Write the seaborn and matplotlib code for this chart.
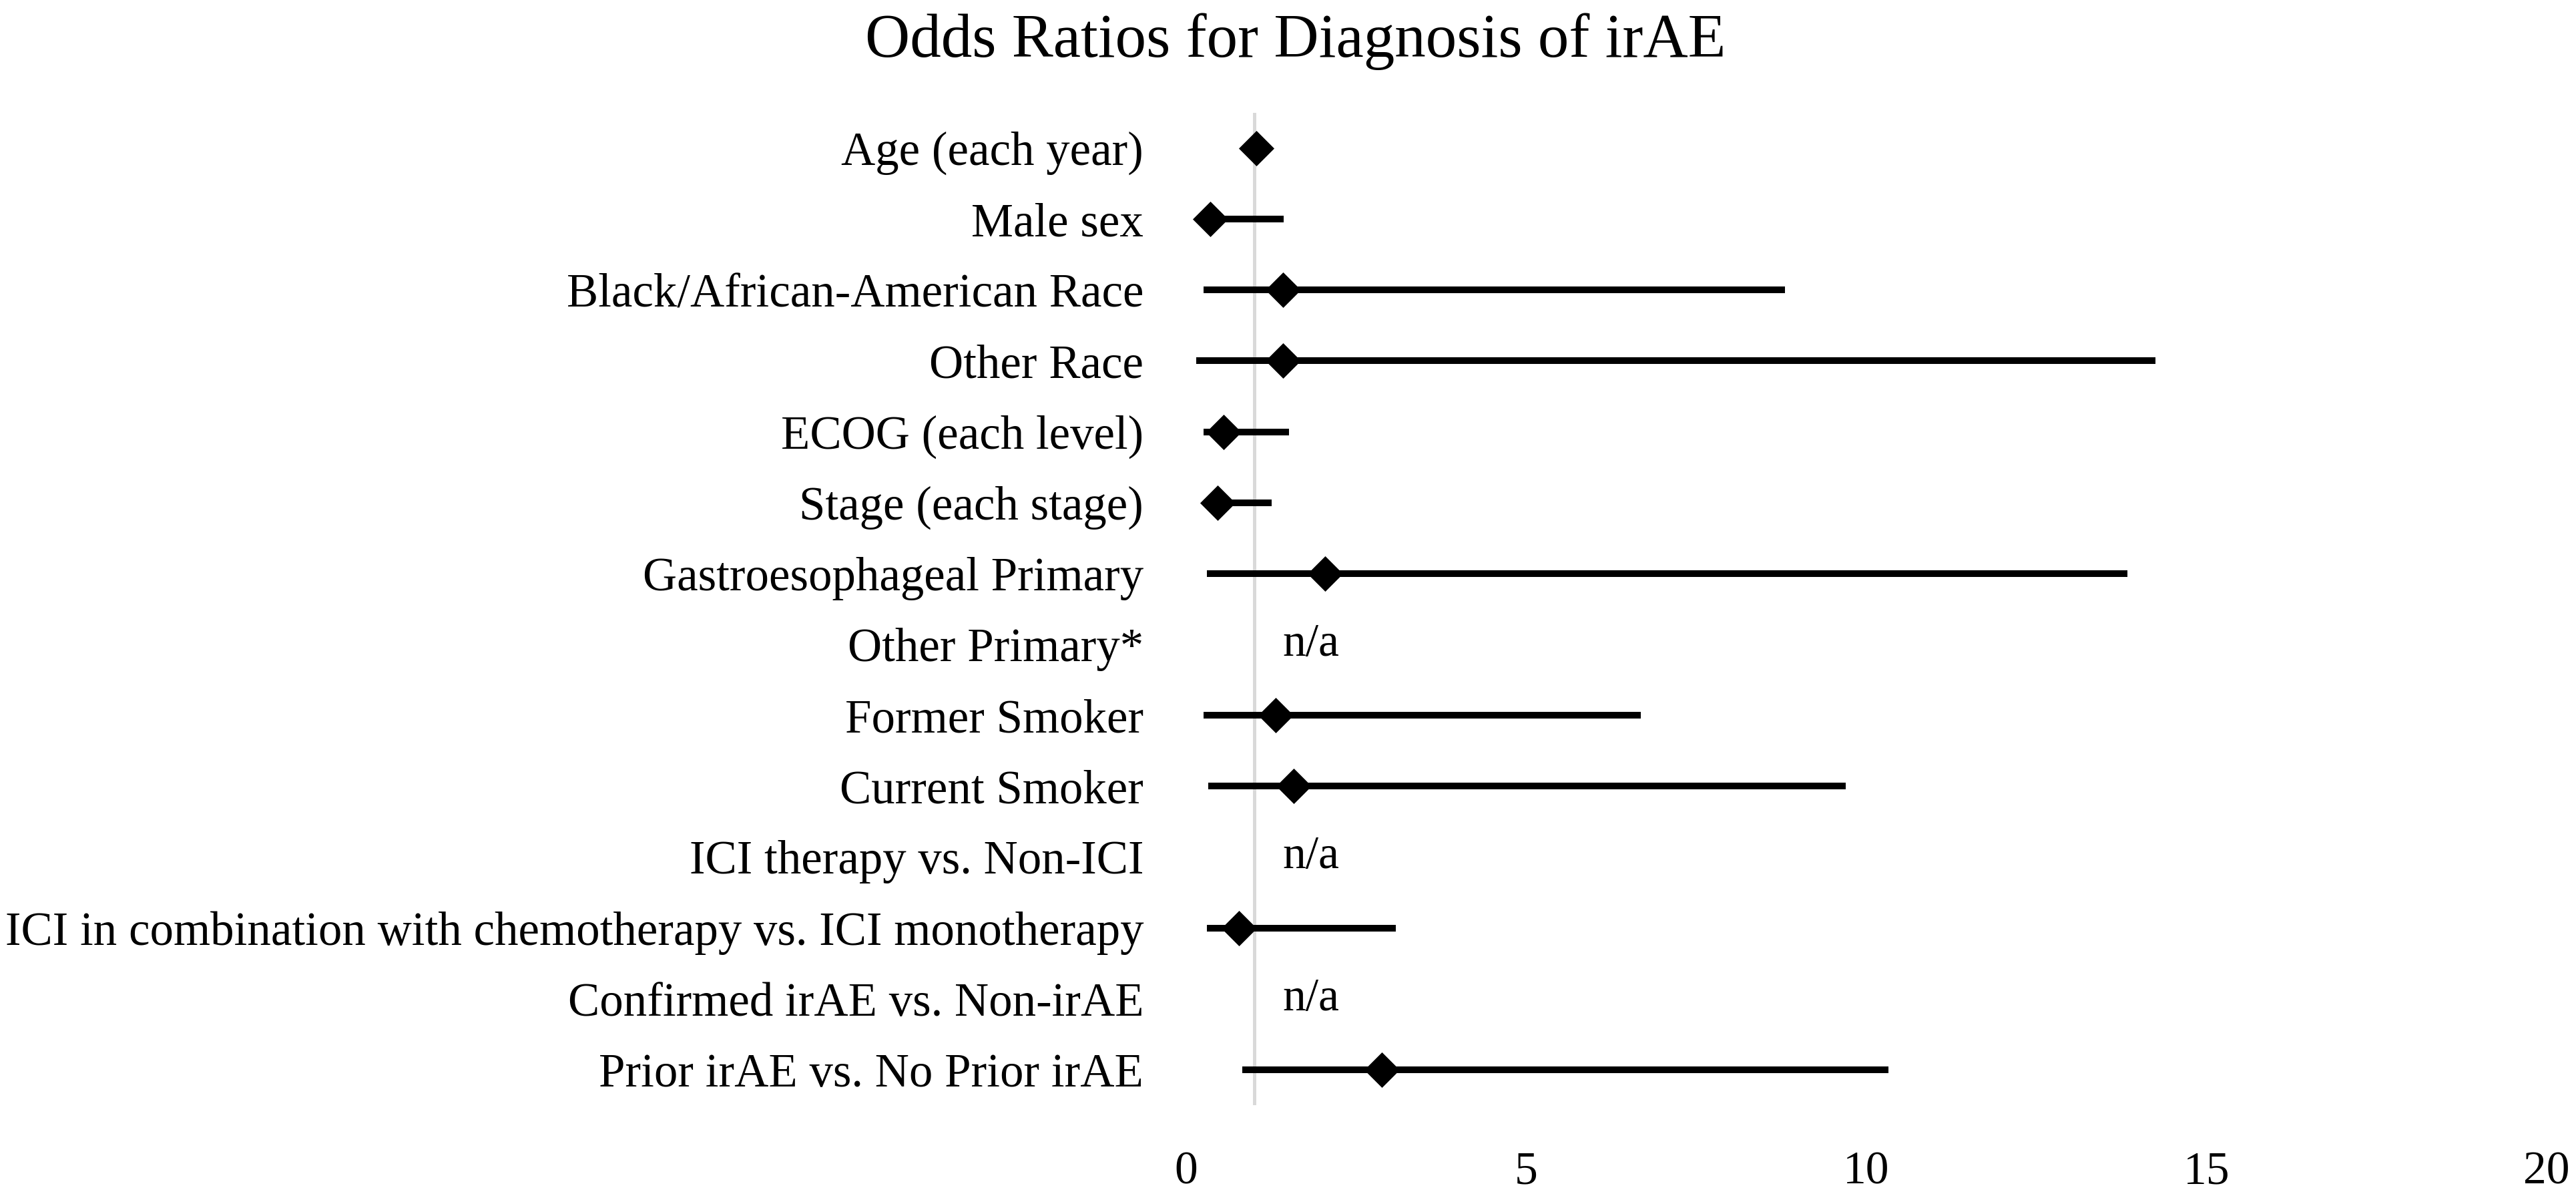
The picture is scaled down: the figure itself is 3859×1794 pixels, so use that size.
import numpy as np
import pandas as pd
import matplotlib
matplotlib.use("Agg")
import matplotlib.pyplot as plt
import seaborn as sns

# --- Data ---
labels = [
    "Age (each year)",
    "Male sex",
    "Black/African-American Race",
    "Other Race",
    "ECOG (each level)",
    "Stage (each stage)",
    "Gastroesophageal Primary",
    "Other Primary*",
    "Former Smoker",
    "Current Smoker",
    "ICI therapy vs. Non-ICI",
    "ICI in combination with chemotherapy vs. ICI monotherapy",
    "Confirmed irAE vs. Non-irAE",
    "Prior irAE vs. No Prior irAE",
]
odds_ratio = [1.03, 0.35, 1.42, 1.42, 0.55, 0.46, 2.04, np.nan, 1.31, 1.58, np.nan, 0.77, np.nan, 2.87]
ci_lower = [0.98, 0.20, 0.25, 0.15, 0.25, 0.25, 0.30, np.nan, 0.25, 0.32, np.nan, 0.30, np.nan, 0.82]
ci_upper = [1.08, 1.43, 8.80, 14.25, 1.51, 1.26, 13.84, np.nan, 6.68, 9.70, np.nan, 3.08, np.nan, 10.32]
x_ticks = [0, 5, 10, 15, 20]
na_text = "n/a"
na_x = 1.83

df = pd.DataFrame({
    "label": labels,
    "row": np.arange(len(labels)),
    "or": odds_ratio,
    "lo": ci_lower,
    "hi": ci_upper,
})

sns.set_style("white")
plt.rcParams["font.family"] = ["Liberation Serif", "DejaVu Serif"]
plt.rcParams["text.color"] = "black"
plt.rcParams["xtick.color"] = "black"
plt.rcParams["ytick.color"] = "black"

fig, ax = plt.subplots(figsize=(19.295, 8.97), dpi=200)
fig.subplots_adjust(left=0.4605, right=0.9886, top=0.9058, bottom=0.0775)

# reference line at OR = 1
ax.axvline(1, color="#d9d9d9", lw=1.8, zorder=0)

# confidence intervals + point estimates
valid = df.dropna(subset=["or"])
ax.hlines(valid["row"], valid["lo"], valid["hi"], color="black", lw=3.6, zorder=2)
diamond = [(0, 1), (1, 0), (0, -1), (-1, 0)]
sns.scatterplot(data=valid, x="or", y="row", marker=diamond, s=19.1 ** 2,
                color="black", edgecolor="black", linewidth=0, ax=ax, zorder=3)

for _, r in df[df["or"].isna()].iterrows():
    ax.text(na_x, r["row"], na_text, ha="center", va="center", fontsize=25)

ax.set_xlim(x_ticks[0], x_ticks[-1])
ax.set_ylim(len(labels) - 0.5, -0.5)
ax.set_xticks(x_ticks)
ax.set_yticks(df["row"], df["label"])
ax.tick_params(axis="y", length=0, pad=23, labelsize=25.5)
ax.tick_params(axis="x", length=0, pad=25, labelsize=25)
ax.set_xlabel("")
ax.set_ylabel("")
sns.despine(ax=ax, left=True, bottom=True)

fig.suptitle("Odds Ratios for Diagnosis of irAE", fontsize=33.5, x=0.503, y=0.989, va="top")

fig.savefig("out.png", dpi=200)
